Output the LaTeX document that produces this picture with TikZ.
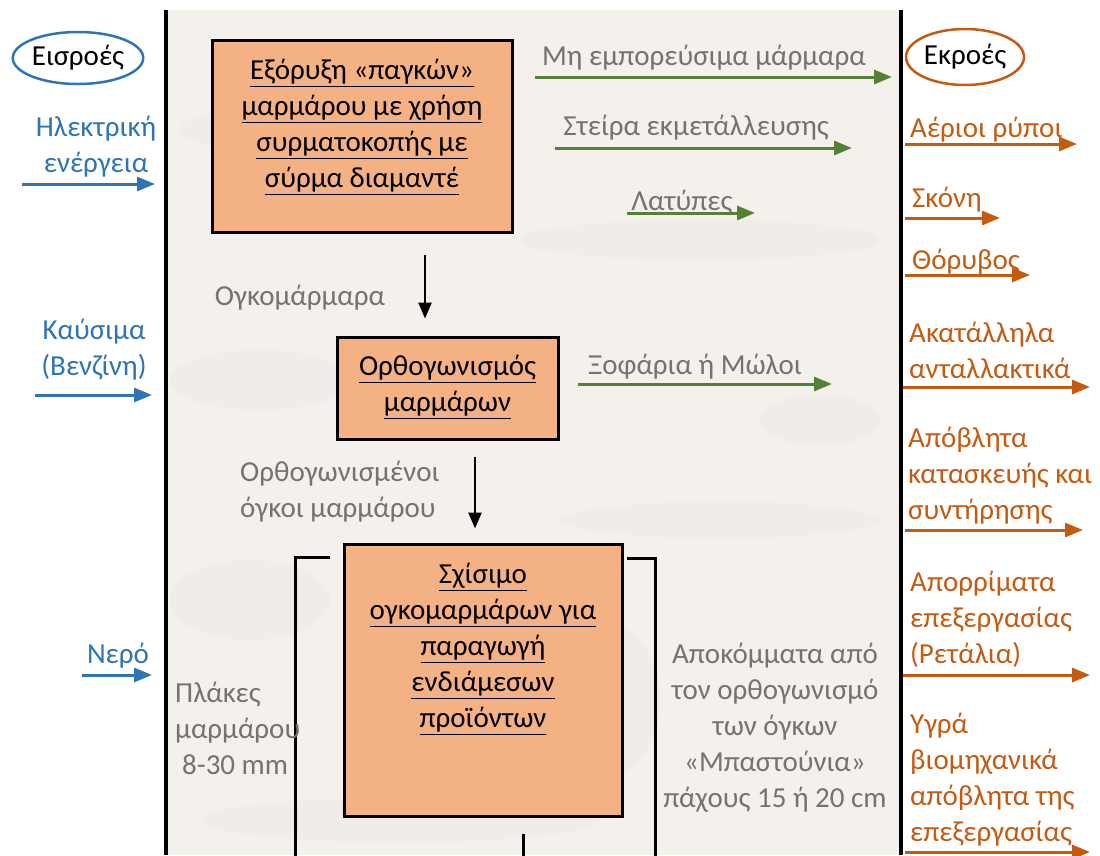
\documentclass[tikz,border=0pt]{standalone}
\usepackage{fontspec}
\setmainfont{Carlito}
\usetikzlibrary{arrows.meta,shapes.geometric}
\definecolor{blueC}{HTML}{2E75B6}
\definecolor{orangeC}{HTML}{C55A11}
\definecolor{greenC}{HTML}{548235}
\definecolor{greyT}{HTML}{747272}
\definecolor{boxF}{HTML}{F4B183}
\definecolor{bandC}{HTML}{F4F1EC}
\definecolor{veinC}{HTML}{9A9A94}
\begin{document}
\begin{tikzpicture}[x=1pt,y=-1pt,
  txt/.style={inner sep=0pt, font=\fontsize{29}{36}\selectfont, align=center},
  ltxt/.style={txt, align=left, anchor=west},
  procbox/.style={draw=black, line width=3pt, fill=boxF, inner sep=0pt},
  flow/.style={draw=black, line width=2.5pt, -{Triangle[length=16pt,width=13pt]}},
  inarrow/.style={draw=blueC, line width=3pt, -{Triangle[length=18pt,width=14pt]}},
  outarrow/.style={draw=orangeC, line width=3pt, -{Triangle[length=18pt,width=14pt]}},
  wastearrow/.style={draw=greenC, line width=3pt, -{Triangle[length=18pt,width=14pt]}},
  frame/.style={draw=black, line width=4pt},
  bracketline/.style={draw=black, line width=3pt},
  vein/.style={fill=veinC, opacity=0.035}]
\useasboundingbox (0,0) rectangle (1100,855);
% marble band
\fill[bandC] (168,10) rectangle (899,855);
\begin{scope}
\clip (168,10) rectangle (899,855);
\fill[vein] (300,130) ellipse (120 and 25);
\fill[vein] (700,240) ellipse (180 and 20);
\fill[vein] (260,380) ellipse (90 and 30);
\fill[vein] (720,520) ellipse (160 and 18);
\fill[vein] (250,600) ellipse (80 and 40);
\fill[vein] (600,700) ellipse (60 and 80);
\fill[vein] (400,820) ellipse (200 and 22);
\fill[vein] (820,420) ellipse (60 and 25);
\end{scope}
\draw[frame] (166,10) -- (166,855);
\draw[frame] (901,10) -- (901,855);

% headings
\node[txt, draw=blueC, line width=2.5pt, ellipse, minimum width=122pt, minimum height=52pt] (ein) at (78,58) {Εισροές};
\node[txt, draw=orangeC, line width=2.5pt, ellipse, minimum width=118pt, minimum height=56pt] (eout) at (965,57) {Εκροές};

% process boxes
\node[procbox, minimum width=300pt, minimum height=192pt] (b1) at (362,136) {};
\node[txt] (t1) at (362,127) {\underline{Εξόρυξη «παγκών»}\\\underline{μαρμάρου με χρήση}\\\underline{συρματοκοπής με}\\\underline{σύρμα διαμαντέ}};
\node[procbox, minimum width=221pt, minimum height=102pt] (b2) at (447.5,388) {};
\node[txt] (t2) at (447.5,387) {\underline{Ορθογωνισμός}\\\underline{μαρμάρων}};
\node[procbox, minimum width=278pt, minimum height=272pt] (b3) at (483,680) {};
\node[txt] (t3) at (483,649) {\underline{Σχίσιμο}\\\underline{ογκομαρμάρων για}\\\underline{παραγωγή}\\\underline{ενδιάμεσων}\\\underline{προϊόντων}};

% flows between boxes
\draw[flow] ([shift={(63,21)}]b1.south) -- ([shift={(-22.5,-17)}]b2.north);
\draw[flow] ([shift={(27.5,16)}]b2.south) -- ([shift={(-8,-14)}]b3.north);
\coordinate (bend) at (523,860);
\draw[bracketline] ([shift={(40,16)}]b3.south) -- (bend);

% brackets
\coordinate (lbA) at (330,557);
\coordinate (lbB) at (295,557);
\coordinate (lbC) at (295,860);
\coordinate (rbA) at (627,558);
\coordinate (rbB) at (655,558);
\coordinate (rbC) at (655,860);
\draw[bracketline] (lbA) -- (lbB) -- (lbC);
\draw[bracketline] (rbA) -- (rbB) -- (rbC);

% grey labels
\node[txt, text=greyT] (lOgk) at (300,298) {Ογκομάρμαρα};
\node[ltxt, text=greyT] (lOrth) at (240,492) {Ορθογωνισμένοι\\όγκοι μαρμάρου};
\node[ltxt, text=greyT] (lPlak) at (175,728) {Πλάκες\\μαρμάρου\\\hspace*{7pt}8-30 mm};
\node[txt, text=greyT] (lApok) at (775,728) {Αποκόμματα από\\τον ορθογωνισμό\\των όγκων\\«Μπαστούνια»\\πάχους 15 ή 20 cm};

% green waste arrows
\node[txt, text=greyT] (g1) at (704,58) {Μη εμπορεύσιμα μάρμαρα};
\coordinate (g1a) at (535,77); \coordinate (g1b) at (892,77);
\draw[wastearrow] (g1a) -- (g1b);
\node[txt, text=greyT] (g2) at (696,128) {Στείρα εκμετάλλευσης};
\coordinate (g2a) at (555,148); \coordinate (g2b) at (852,148);
\draw[wastearrow] (g2a) -- (g2b);
\node[txt, text=greyT] (g3) at (682,203) {Λατύπες};
\coordinate (g3a) at (627,213); \coordinate (g3b) at (755,213);
\draw[wastearrow] (g3a) -- (g3b);
\node[txt, text=greyT] (g4) at (695,367) {Ξοφάρια ή Μώλοι};
\coordinate (g4a) at (578,384); \coordinate (g4b) at (832,384);
\draw[wastearrow] (g4a) -- (g4b);

% inputs
\node[txt, text=blueC] (i1) at (96,147) {Ηλεκτρική\\ενέργεια};
\coordinate (i1a) at (22,184); \coordinate (i1b) at (155,184);
\draw[inarrow] (i1a) -- (i1b);
\node[txt, text=blueC] (i2) at (94,350) {Καύσιμα\\(Βενζίνη)};
\coordinate (i2a) at (35,395); \coordinate (i2b) at (152,395);
\draw[inarrow] (i2a) -- (i2b);
\node[txt, text=blueC] (i3) at (118,656) {Νερό};
\coordinate (i3a) at (82,675); \coordinate (i3b) at (152,675);
\draw[inarrow] (i3a) -- (i3b);

% outputs
\node[ltxt, text=orangeC] (o1) at (910,130) {Αέριοι ρύποι};
\coordinate (o1a) at (905,144); \coordinate (o1b) at (1077,144);
\draw[outarrow] (o1a) -- (o1b);
\node[ltxt, text=orangeC] (o2) at (912,200) {Σκόνη};
\coordinate (o2a) at (905,218); \coordinate (o2b) at (1000,218);
\draw[outarrow] (o2a) -- (o2b);
\node[ltxt, text=orangeC] (o3) at (912,262) {Θόρυβος};
\coordinate (o3a) at (905,275); \coordinate (o3b) at (1030,275);
\draw[outarrow] (o3a) -- (o3b);
\node[ltxt, text=orangeC] (o4) at (909,350) {Ακατάλληλα\\ανταλλακτικά};
\coordinate (o4a) at (903,387); \coordinate (o4b) at (1090,387);
\draw[outarrow] (o4a) -- (o4b);
\node[ltxt, text=orangeC] (o5) at (908,476) {Απόβλητα\\κατασκευής και\\συντήρησης};
\coordinate (o5a) at (905,530); \coordinate (o5b) at (1083,530);
\draw[outarrow] (o5a) -- (o5b);
\node[ltxt, text=orangeC] (o6) at (910,619) {Απορρίματα\\επεξεργασίας\\(Ρετάλια)};
\coordinate (o6a) at (903,675); \coordinate (o6b) at (1090,675);
\draw[outarrow] (o6a) -- (o6b);
\node[ltxt, text=orangeC] (o7) at (910,780) {Υγρά\\βιομηχανικά\\απόβλητα της\\επεξεργασίας};
\coordinate (o7a) at (905,852); \coordinate (o7b) at (1090,852);
\draw[outarrow] (o7a) -- (o7b);
\end{tikzpicture}
\end{document}
